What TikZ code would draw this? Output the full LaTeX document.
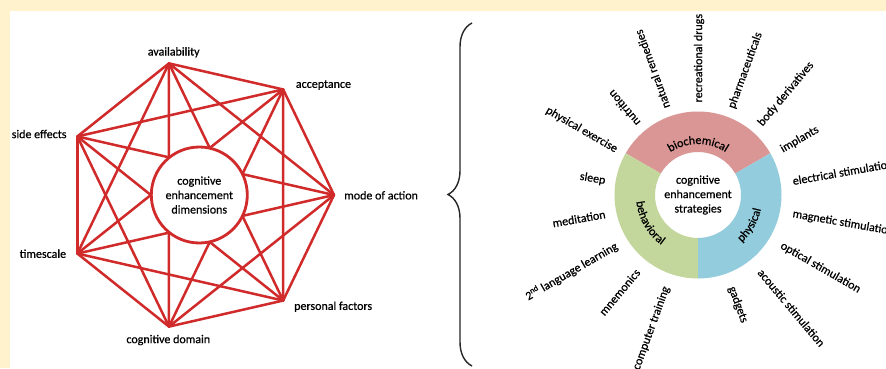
\documentclass[tikz,border=0pt]{standalone}
\usepackage{fontspec}
\setmainfont{Carlito}[FakeBold=0.6]
\usetikzlibrary{decorations.text,decorations.pathreplacing}
\definecolor{cream}{HTML}{FFF2CC}
\definecolor{linered}{HTML}{D02A2A}
\definecolor{bioc}{HTML}{D99694}
\definecolor{behc}{HTML}{C3D69B}
\definecolor{phyc}{HTML}{93CDDD}
\newcommand{\lblfont}{\fontsize{12}{14.4}\selectfont}
\begin{document}
\begin{tikzpicture}[x=1pt,y=1pt,
  lbl/.style={font=\lblfont, inner sep=0pt, text=black},
  ray/.style={font=\lblfont, inner sep=0pt, text=black},
  edge/.style={draw=linered, line width=2.5pt, line cap=round},
  segtext/.style={decorate, decoration={text along path, text align=center, text={|\lblfont|#1}}}]
\useasboundingbox (0,0) rectangle (886,368);
\fill[cream] (0,0) rectangle (886,368);
\fill[white] (10,0) rectangle (886,357);

% ---------- left: heptagon ----------
\begin{scope}[shift={(199,173)}]
  \foreach \i in {0,...,6} \coordinate (h\i) at ({\i*360/7}:135);
  \foreach \i in {0,...,5}{
    \pgfmathtruncatemacro\s{\i+1}
    \foreach \j in {\s,...,6} \draw[edge] (h\i) -- (h\j);
  }
  \node[circle, draw=linered, line width=2.8pt, fill=white, minimum size=96pt, inner sep=0pt,
        lbl, align=center] (dim) at (0.3,0) {cognitive\\enhancement\\dimensions};
\end{scope}
\node[lbl] (ava) at (173.7,315.7) {availability};
\node[lbl, anchor=west] (acc) at (295.7,283) {acceptance};
\node[lbl, anchor=west] (moa) at (344,172.7) {mode of action};
\node[lbl, anchor=west] (per) at (294,61.3) {personal factors};
\node[lbl] (cog) at (168.3,28) {cognitive domain};
\node[lbl, anchor=east] (tim) at (66.3,114.3) {timescale};
\node[lbl, anchor=east] (sid) at (66.7,234) {side effects};

% ---------- brace ----------
\draw[decorate, decoration={brace, amplitude=24pt}, line width=1.4pt, draw=black!85]
  (472,2) -- (472,345);

% ---------- right: donut ----------
\begin{scope}[shift={(698,173)}]
  \fill[bioc] (30:83.5) arc (30:150:83.5) -- (150:43) arc (150:30:43) -- cycle;
  \fill[behc] (150:83.5) arc (150:270:83.5) -- (270:43) arc (270:150:43) -- cycle;
  \fill[phyc] (270:83.5) arc (270:390:83.5) -- (390:43) arc (390:270:43) -- cycle;
  \path[segtext=biochemical] (150:51) arc (150:30:51);
  \path[segtext=behavioral] (150:62) arc (150:270:62);
  \path[segtext=physical] (270:64.5) arc (270:390:64.5);
  \node[lbl, align=center] (str) at (0,0) {cognitive\\enhancement\\strategies};
\end{scope}
\begin{scope}[shift={(699,170.5)}]
  \foreach \ang/\txt/\nm in {90/recreational drugs/r1, 70/pharmaceuticals/r2, 50/body derivatives/r3,
      30/implants/r4, 10/electrical stimulation/r5, -10/magnetic stimulation/r6,
      -30/optical stimulation/r7, -50/acoustic stimulation/r8, -70/gadgets/r9,
      110/natural remedies/r10, 130/nutrition/r11}
    \node[ray, anchor=west, rotate=\ang] (\nm) at (\ang:95) {\txt};
  \foreach \ang/\txt/\nm in {150/physical exercise/l1, 170/sleep/l2, 190/meditation/l3,
      210/2\textsuperscript{nd} language learning/l4, 230/mnemonics/l5, 250/computer training/l6}
    \node[ray, anchor=east, rotate=\ang-180] (\nm) at (\ang:95) {\txt};
\end{scope}
\end{tikzpicture}
\end{document}
